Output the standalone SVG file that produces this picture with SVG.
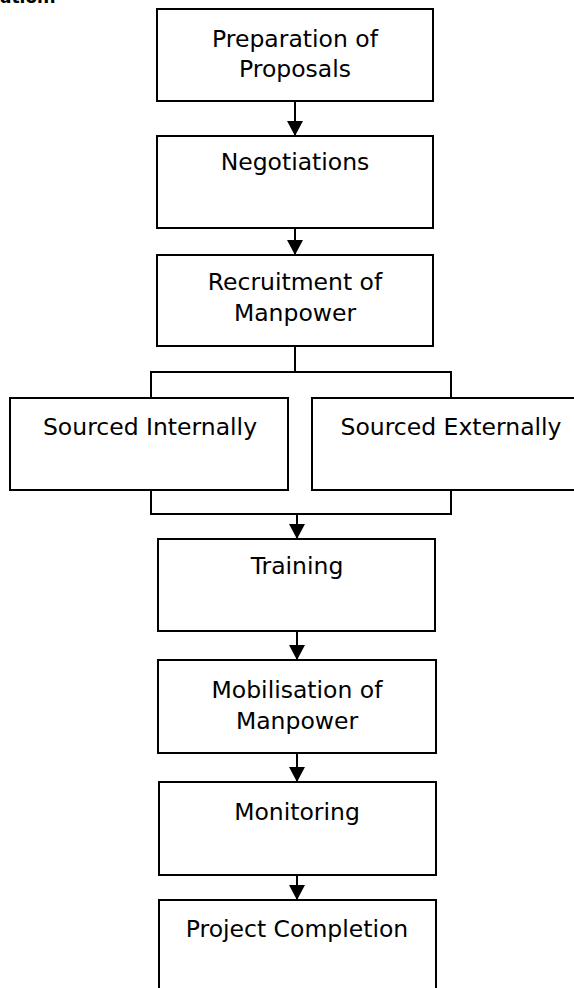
<svg xmlns="http://www.w3.org/2000/svg" width="574" height="988" viewBox="0 0 574 988">
<style>
.box{fill:#fff;stroke:#000;stroke-width:2}
.t{font-family:"DejaVu Sans",Verdana,sans-serif;font-size:23.5px;fill:#000;text-anchor:middle}
.c{fill:none;stroke:#000;stroke-width:2}
</style>
<defs>
<marker id="ah" markerUnits="userSpaceOnUse" markerWidth="16" markerHeight="16" viewBox="0 0 16 16" refX="15" refY="8" orient="auto">
<path d="M0,0 L15,8 L0,16 Z" fill="#000"/>
</marker>
</defs>
<rect width="574" height="988" fill="#fff"/>
<text x="0" y="3" style="font-family:'DejaVu Sans',Verdana,sans-serif;font-size:17px;font-weight:bold">ation:</text>
<g id="n1"><rect class="box" x="157" y="9" width="276" height="92"/><text class="t" x="295" y="47">Preparation of</text><text class="t" x="295" y="77">Proposals</text></g>
<g id="n2"><rect class="box" x="157" y="136" width="276" height="92"/><text class="t" x="295" y="170">Negotiations</text></g>
<g id="n3"><rect class="box" x="157" y="255" width="276" height="91"/><text class="t" x="295" y="290">Recruitment of</text><text class="t" x="295" y="321">Manpower</text></g>
<g id="n4"><rect class="box" x="10" y="398" width="278" height="92"/><text class="t" x="150" y="435">Sourced Internally</text></g>
<g id="n5"><rect class="box" x="312" y="398" width="270" height="92"/><text class="t" x="451" y="435">Sourced Externally</text></g>
<g id="n6"><rect class="box" x="158" y="539" width="277" height="92"/><text class="t" x="297" y="574">Training</text></g>
<g id="n7"><rect class="box" x="158" y="660" width="278" height="93"/><text class="t" x="297" y="698">Mobilisation of</text><text class="t" x="297" y="729">Manpower</text></g>
<g id="n8"><rect class="box" x="159" y="782" width="277" height="93"/><text class="t" x="297" y="820">Monitoring</text></g>
<g id="n9"><rect class="box" x="159" y="900" width="277" height="92"/><text class="t" x="297" y="937">Project Completion</text></g>
<g id="connectors">
<line class="c" x1="295" y1="101" x2="295" y2="136" marker-end="url(#ah)"/>
<line class="c" x1="295" y1="228" x2="295" y2="255" marker-end="url(#ah)"/>
<polyline class="c" points="295,346 295,372"/>
<polyline class="c" points="151,398 151,372 451,372 451,398"/>
<polyline class="c" points="151,490 151,514 451,514 451,490"/>
<line class="c" x1="297" y1="514" x2="297" y2="539" marker-end="url(#ah)"/>
<line class="c" x1="297" y1="631" x2="297" y2="660" marker-end="url(#ah)"/>
<line class="c" x1="297" y1="753" x2="297" y2="782" marker-end="url(#ah)"/>
<line class="c" x1="297" y1="875" x2="297" y2="900" marker-end="url(#ah)"/>
</g>
</svg>
